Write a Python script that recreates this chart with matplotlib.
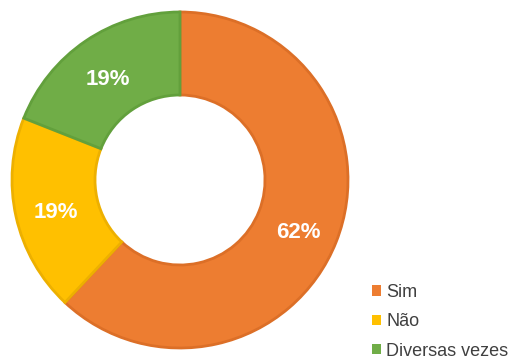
import matplotlib.pyplot as plt
from matplotlib.patches import Rectangle

plt.rcParams['font.family'] = ['Liberation Sans', 'DejaVu Sans']

categories = ['Sim', 'Não', 'Diversas vezes']
shares = [62, 19, 19]
colors = ['#ED7D31', '#FFC000', '#70AD47']
edge_colors = ['#DC6F27', '#EDB000', '#62A03C']

fig = plt.figure(figsize=(5.16, 3.61), dpi=100)
ax = fig.add_axes([0, 0, 1, 1])

wedges, texts, pcts = ax.pie(shares, colors=colors, startangle=90, counterclock=False,
                             center=(180, 181), radius=168, frame=True,
                             autopct='%d%%', pctdistance=0.76,
                             wedgeprops=dict(width=83, linewidth=2),
                             textprops=dict(color='white', fontsize=16, fontweight='bold'))
for w, ec in zip(wedges, edge_colors):
    w.set_edgecolor(ec)
# nudge percentages a little lower in the ring
for t in pcts:
    x, y = t.get_position()
    t.set_position((x, y - 5))
ax.set_xlim(0, 516)
ax.set_ylim(0, 361)
ax.set_aspect('equal')
ax.axis('off')

handles = [Rectangle((0, 0), 1, 1, facecolor=c, edgecolor='none') for c in colors]
leg = ax.legend(handles, categories, loc='upper left', bbox_to_anchor=(372 / 516, 1 - 284 / 361),
                frameon=False, fontsize=13, handlelength=0.5, handleheight=0.5,
                handletextpad=0.3, labelspacing=0.68, borderpad=0, borderaxespad=0)
for t in leg.get_texts():
    t.set_color('#404040')

fig.savefig('out.png', dpi=100)
